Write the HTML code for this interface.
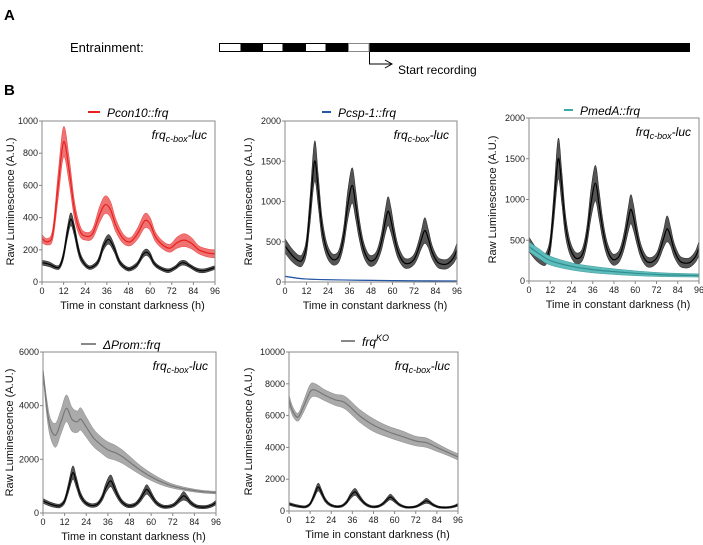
<!DOCTYPE html>
<html><head><meta charset="utf-8"><style>
body{margin:0;background:#fff;}
svg{display:block;font-family:"Liberation Sans",Arial,sans-serif;}
.tk{font-size:9px;fill:#222;}
.ttl{font-size:11px;fill:#111;}
</style></head><body>
<svg id="fig" width="703" height="545" viewBox="0 0 703 545">
<text x="4" y="20" font-size="15" font-weight="bold">A</text>
<text x="70" y="52" font-size="13">Entrainment:</text>
<g>
<rect x="219" y="43" width="471" height="9" fill="#000"/>
<rect x="219.5" y="43.5" width="21.5" height="8" fill="#fff" stroke="#000"/>
<rect x="262.5" y="43.5" width="20.5" height="8" fill="#fff" stroke="#000"/>
<rect x="305.5" y="43.5" width="20.5" height="8" fill="#fff" stroke="#000"/>
<rect x="348.5" y="43.5" width="20.5" height="8" fill="#fff" stroke="#888"/>
</g>
<path d="M369.5 52 V64 H391 M385 60 L392 64 L385 68" fill="none" stroke="#000" stroke-width="1"/>
<text x="398" y="74" font-size="12">Start recording</text>
<text x="4" y="95" font-size="15" font-weight="bold">B</text>
</svg>
<script>
// ---------- data ----------
const p1BlackT=[0,4,8,10,12,14,16,18,20,22,26,30,32,34,37,40,42,44,48,52,54,56,58,60,62,65,70,74,76,78,80,82,86,90,96];
const p1BlackM=[120,110,90,100,170,300,390,320,210,140,90,110,150,220,265,210,150,110,80,100,130,170,185,165,120,90,70,90,110,120,115,100,75,70,90];
const p1BlackE=[15,15,12,15,25,35,40,35,30,20,12,15,20,25,30,25,20,15,12,15,15,20,20,20,15,12,12,12,15,15,15,12,12,12,12];
const p1RedT=[0,3,6,9,12,15,18,21,24,28,32,35,38,41,45,49,53,57,60,63,67,71,75,79,83,87,92,96];
const p1RedM=[270,250,300,600,870,700,450,320,285,300,420,480,450,350,270,250,300,380,360,280,230,210,245,260,240,200,180,175];
const p1RedE=[25,20,35,80,95,80,55,35,25,30,50,55,50,40,30,25,35,45,40,30,25,25,35,40,35,25,25,25];

const cboxT=[0,4,8,10,12,14,16.5,18.5,20.5,23,26,29,31,33,35,37.5,39.5,41.5,44,47,50,52,54,56,57.5,59,61,63,66,69,72,74,76,78,80,82,85,88,91,94,96];
const cboxM=[450,330,260,290,450,900,1500,1150,700,420,290,290,380,600,950,1200,950,650,400,270,280,360,520,750,880,780,560,380,250,230,280,380,520,640,540,380,250,220,230,300,400];
const cboxE=[90,80,70,75,100,170,250,200,140,90,70,70,85,120,180,220,180,130,90,70,70,80,110,150,180,160,115,85,65,60,65,85,110,160,115,85,65,60,60,70,90];

const blueT=[0,10,24,48,72,96];
const blueM=[70,40,28,20,15,12];
const blueE=[4,3,2,2,2,2];

const tealT=[0,6,12,24,36,48,60,72,84,96];
const tealM=[420,330,250,180,140,115,95,80,72,68];
const tealE=[60,60,55,45,40,35,30,25,22,20];

const promT=[0,2,4,7,10,13,16,19,21,24,28,32,36,40,44,48,54,60,66,72,80,88,96];
const promM=[5300,4000,3200,2900,3400,3900,3500,3400,3500,3200,2800,2550,2350,2250,2100,1900,1600,1350,1150,1000,880,800,760];
const promE=[100,300,350,450,450,500,450,400,420,380,330,300,300,280,250,220,170,140,110,80,60,50,50];

const koT=[0,2,5,8,12,15,20,26,32,40,48,56,64,72,78,84,90,96];
const koM=[7000,6300,5900,6500,7500,7600,7300,7000,6800,6000,5400,5000,4700,4400,4300,4000,3700,3400];
const koE=[300,300,250,350,450,400,350,350,400,400,400,350,350,300,300,250,200,200];

const xTicks=[0,12,24,36,48,60,72,84,96];
const yTicks1=[0,200,400,600,800,1000];
const yTicks2=[0,500,1000,1500,2000];
const yTicks4=[0,2000,4000,6000];
const yTicks5=[0,2000,4000,6000,8000,10000];
const legendLabels=["Pcon10::frq","Pcsp-1::frq","PmedA::frq","\u0394Prom::frq","frq"];

// ---------- drawing ----------
const NS="http://www.w3.org/2000/svg";
const svg=document.getElementById('fig');
function mk(tag,attrs,parent){const e=document.createElementNS(NS,tag);for(const k in attrs)e.setAttribute(k,attrs[k]);(parent||svg).appendChild(e);return e;}
function smooth(pts){
  let d="M"+pts[0][0].toFixed(1)+" "+pts[0][1].toFixed(1);
  for(let i=0;i<pts.length-1;i++){
    const p0=pts[Math.max(i-1,0)],p1=pts[i],p2=pts[i+1],p3=pts[Math.min(i+2,pts.length-1)];
    const c1=[p1[0]+(p2[0]-p0[0])/6,p1[1]+(p2[1]-p0[1])/6];
    const c2=[p2[0]-(p3[0]-p1[0])/6,p2[1]-(p3[1]-p1[1])/6];
    d+=" C"+c1[0].toFixed(1)+" "+c1[1].toFixed(1)+" "+c2[0].toFixed(1)+" "+c2[1].toFixed(1)+" "+p2[0].toFixed(1)+" "+p2[1].toFixed(1);
  }
  return d;
}
function panel(cfg){
  const g=mk('g',{});
  
  
  const xs=t=>cfg.x0+(cfg.x1-cfg.x0)*t/96;
  const ys=v=>cfg.yb-(cfg.yb-cfg.yt)*Math.max(0,Math.min(v,cfg.ymax))/cfg.ymax;
  function series(T,M,E,fill,stroke,nm){
    const up=T.map((t,i)=>[xs(t),ys(M[i]+E[i])]);
    const lo=T.map((t,i)=>[xs(t),ys(M[i]-E[i])]).reverse();
    const band=mk('path',{d:smooth(up)+" L"+smooth(lo).slice(1)+" Z",fill:fill,stroke:stroke,'stroke-width':0.4},g);
    
    
    const ln=mk('path',{d:smooth(T.map((t,i)=>[xs(t),ys(M[i])])),fill:'none',stroke:stroke,'stroke-width':1.2},g);
    
    
  }
  cfg.series.forEach(s=>series(s[0],s[1],s[2],s[3],s[4],s[5]));
  const box=mk('rect',{x:cfg.x0,y:cfg.yt,width:cfg.x1-cfg.x0,height:cfg.yb-cfg.yt,fill:'none',stroke:'#888','stroke-width':1},g);
  
  
  xTicks.forEach(t=>{
    mk('line',{x1:xs(t),x2:xs(t),y1:cfg.yb,y2:cfg.yb+3,stroke:'#888'},g);
    const tx=mk('text',{x:xs(t),y:cfg.yb+12,'text-anchor':'middle',class:'tk'},g);
    tx.textContent=t;
    
    
  });
  cfg.yTicks.forEach(v=>{
    mk('line',{x1:cfg.x0-3,x2:cfg.x0,y1:ys(v),y2:ys(v),stroke:'#888'},g);
    const tx=mk('text',{x:cfg.x0-4,y:ys(v)+3,'text-anchor':'end',class:'tk'},g);
    tx.textContent=v;
    
    
  });
  const xt=mk('text',{x:(cfg.x0+cfg.x1)/2+4,y:cfg.yb+27,'text-anchor':'middle',class:'ttl'},g);
  xt.textContent='Time in constant darkness (h)';
  
  
  const ycx=cfg.x0-cfg.ytOff, ycy=(cfg.yt+cfg.yb)/2;
  const yt=mk('text',{x:ycx,y:ycy,'text-anchor':'middle',class:'ttl',transform:'rotate(-90 '+ycx+' '+ycy+')'},g);
  yt.textContent='Raw Luminescence (A.U.)';
  
  
  const rl=mk('text',{x:cfg.x1-8,y:cfg.yt+18,'text-anchor':'end','font-size':'12','font-style':'italic'},g);
  rl.innerHTML='frq<tspan font-size="9" dy="3">c-box</tspan><tspan dy="-3">-luc</tspan>';
  
  
  const lg=mk('g',{},g);
  
  
  mk('line',{x1:cfg.lx,x2:cfg.lx+cfg.lw,y1:cfg.ly,y2:cfg.ly,stroke:cfg.lc,'stroke-width':2},lg);
  const lt=mk('text',{x:cfg.lx+cfg.lw+7,y:cfg.ly+5,'font-size':'12','font-style':'italic'},lg);
  lt.textContent=cfg.label;
  if(cfg.sup){const s=mk('tspan',{'font-size':'9',dy:'-5'},lt);s.textContent='KO';}
}
panel({name:'panel-pcon10',x0:42,x1:215,yt:121,yb:282,ymax:1000,yTicks:yTicks1,ytOff:28,lx:88,lw:12,ly:112,lc:'#e8201e',label:legendLabels[0],
  series:[[p1RedT,p1RedM,p1RedE,'#f07373','#e8201e','pcon10'],[p1BlackT,p1BlackM,p1BlackE,'#555','#000','cbox']]});
panel({name:'panel-pcsp1',x0:285,x1:457,yt:121,yb:282,ymax:2000,yTicks:yTicks2,ytOff:33,lx:322,lw:9,ly:112,lc:'#2456a4',label:legendLabels[1],
  series:[[cboxT,cboxM,cboxE,'#555','#000','cbox'],[blueT,blueM,blueE,'#6a8cc6','#2456a4','pcsp1']]});
panel({name:'panel-pmeda',x0:529,x1:699,yt:118,yb:281,ymax:2000,yTicks:yTicks2,ytOff:33,lx:564,lw:9,ly:110,lc:'#3aa9a9',label:legendLabels[2],
  series:[[cboxT,cboxM,cboxE,'#555','#000','cbox'],[tealT,tealM,tealE,'#5fbcbc','#2f8f8f','pmeda']]});
panel({name:'panel-dprom',x0:43,x1:216,yt:352,yb:513,ymax:6000,yTicks:yTicks4,ytOff:30,lx:81,lw:15,ly:344,lc:'#888',label:legendLabels[3],
  series:[[promT,promM,promE,'#aaa','#777','dprom'],[cboxT,cboxM,cboxE,'#555','#000','cbox']]});
panel({name:'panel-frqko',x0:289,x1:458,yt:352,yb:511,ymax:10000,yTicks:yTicks5,ytOff:37,lx:341,lw:14,ly:341,lc:'#888',label:legendLabels[4],sup:true,
  series:[[koT,koM,koE,'#aaa','#777','frqko'],[cboxT,cboxM,cboxE,'#555','#000','cbox']]});
</script>
</body></html>
